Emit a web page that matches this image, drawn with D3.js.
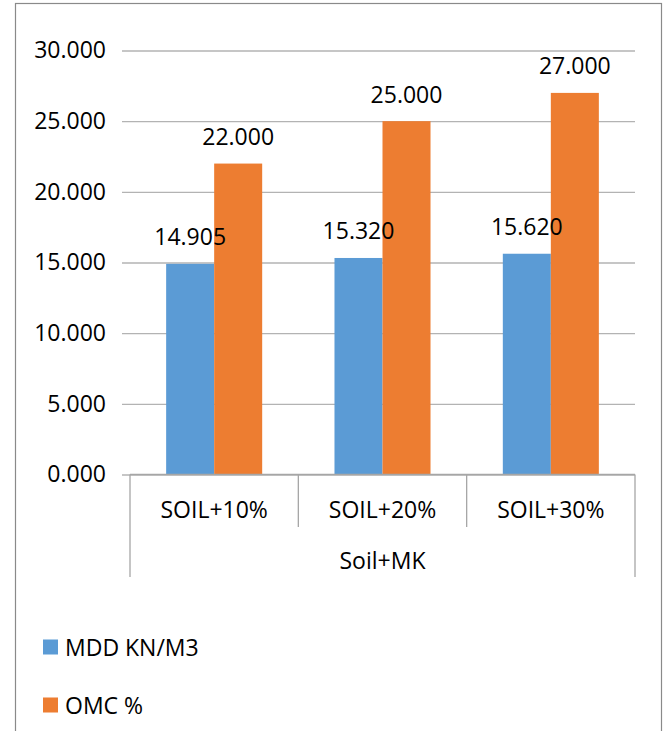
<!DOCTYPE html>
<html>
<head>
<meta charset="utf-8">
<script src="https://cdn.jsdelivr.net/npm/d3@7"></script>
<style>
  html, body { margin: 0; padding: 0; background: #fff; }
  svg { display: block; }
  text { font-family: "Open Sans", "Liberation Sans", sans-serif; fill: #000; }
</style>
</head>
<body>
<div id="chart"></div>
<script>
// chart values
const categories = ['SOIL+10%', 'SOIL+20%', 'SOIL+30%'];
const groupLabel = 'Soil+MK';
const seriesNames = ['MDD KN/M3', 'OMC %'];
const mddValues = [14.905, 15.320, 15.620];
const omcValues = [22.000, 25.000, 27.000];
const yTicks = [0, 5, 10, 15, 20, 25, 30];

const colors = ['#5B9BD5', '#ED7D31'];
const width = 665, height = 731;
const plot = { left: 130, right: 635, top: 50.5, bottom: 474.5 };
const fontSize = 23;

const rows = categories.map((c, i) => ({ cat: c, values: [mddValues[i], omcValues[i]] }));

const svg = d3.select('#chart').append('svg')
  .attr('width', width)
  .attr('height', height);

// outer chart border (runs off the bottom of the picture)
svg.append('rect')
  .attr('x', 15.5).attr('y', 3.5)
  .attr('width', 646).attr('height', 760)
  .attr('fill', 'none')
  .attr('stroke', '#8a8a8a')
  .attr('stroke-width', 1.2);

const y = d3.scaleLinear().domain([0, 30]).range([plot.bottom, plot.top]);
const x0 = d3.scaleBand().domain(categories).range([plot.left, plot.right]).padding(0);
const x1 = d3.scaleBand().domain(seriesNames).range([0, x0.bandwidth()])
  .paddingInner(0).paddingOuter(0.753);

// gridlines + ticks
const yAxis = d3.axisLeft(y)
  .tickValues(yTicks)
  .tickFormat(d3.format('.3f'))
  .tickSize(plot.right - plot.left + 8)
  .tickPadding(16);

const gy = svg.append('g')
  .attr('transform', `translate(${plot.right},0)`)
  .call(yAxis);
gy.select('.domain').remove();
gy.selectAll('.tick line')
  .attr('stroke', '#b3b3b3')
  .attr('stroke-width', 1.3);
gy.selectAll('.tick text')
  .attr('font-size', fontSize)
  .attr('fill', '#000');

// bars
const groups = svg.append('g').selectAll('g')
  .data(rows)
  .join('g')
  .attr('transform', d => `translate(${x0(d.cat)},0)`);

groups.selectAll('rect')
  .data(d => d.values.map((v, i) => ({ name: seriesNames[i], value: v, i })))
  .join('rect')
  .attr('x', d => x1(d.name))
  .attr('y', d => y(d.value))
  .attr('width', x1.bandwidth())
  .attr('height', d => y(0) - y(d.value))
  .attr('fill', d => colors[d.i]);

groups.selectAll('text.value')
  .data(d => d.values.map((v, i) => ({ name: seriesNames[i], value: v })))
  .join('text')
  .attr('class', 'value')
  .attr('x', d => x1(d.name) + x1.bandwidth() / 2)
  .attr('y', d => y(d.value) - 18.5)
  .attr('text-anchor', 'middle')
  .attr('font-size', fontSize)
  .text(d => d3.format('.3f')(d.value));

// category axis: baseline, separators and labels
const axisColor = '#a6a6a6';
svg.append('line')
  .attr('x1', plot.left).attr('x2', plot.right)
  .attr('y1', y(0)).attr('y2', y(0))
  .attr('stroke', axisColor).attr('stroke-width', 1.3);

const bounds = categories.map(c => x0(c)).concat([plot.right]);
svg.append('g').selectAll('line')
  .data(bounds)
  .join('line')
  .attr('x1', d => d).attr('x2', d => d)
  .attr('y1', y(0))
  .attr('y2', (d, i) => (i === 0 || i === bounds.length - 1) ? 577 : 527)
  .attr('stroke', axisColor)
  .attr('stroke-width', 1.3);

svg.append('g').selectAll('text')
  .data(categories)
  .join('text')
  .attr('x', d => x0(d) + x0.bandwidth() / 2)
  .attr('y', 510)
  .attr('dy', '0.35em')
  .attr('text-anchor', 'middle')
  .attr('font-size', fontSize)
  .text(d => d);

svg.append('text')
  .attr('x', (plot.left + plot.right) / 2)
  .attr('y', 561)
  .attr('dy', '0.35em')
  .attr('text-anchor', 'middle')
  .attr('font-size', fontSize)
  .text(groupLabel);

// legend
const legend = svg.append('g').selectAll('g')
  .data(seriesNames)
  .join('g')
  .attr('transform', (d, i) => `translate(43,${647 + i * 58})`);

legend.append('rect')
  .attr('x', 0).attr('y', -7.5)
  .attr('width', 15).attr('height', 15)
  .attr('fill', (d, i) => colors[i]);

legend.append('text')
  .attr('x', 22)
  .attr('y', 1)
  .attr('dy', '0.35em')
  .attr('font-size', fontSize)
  .text(d => d);
</script>
</body>
</html>
